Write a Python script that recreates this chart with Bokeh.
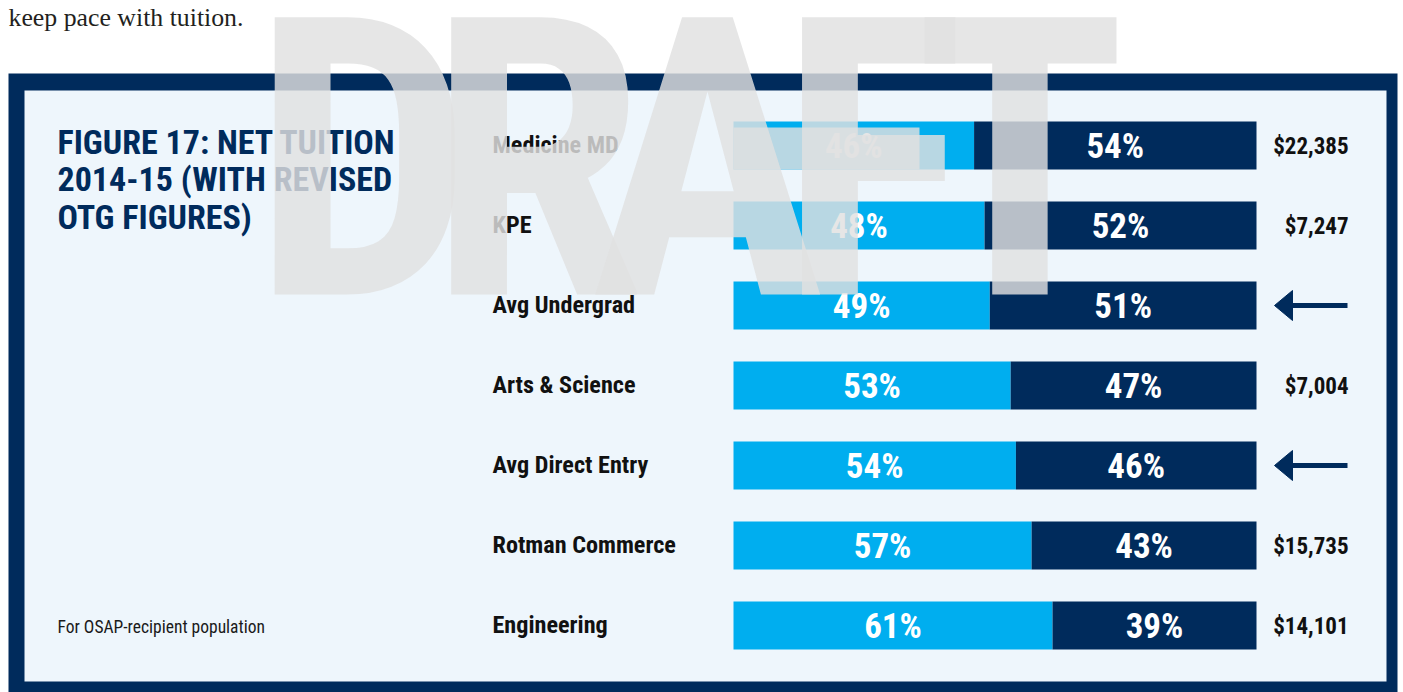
from bokeh.plotting import figure
from bokeh.models import Range1d, ColumnDataSource
from bokeh.core.properties import value
from bokeh.embed import file_html
from bokeh.resources import INLINE

# ---------------- data ----------------
categories = ["Medicine MD", "KPE", "Avg Undergrad", "Arts & Science",
              "Avg Direct Entry", "Rotman Commerce", "Engineering"]
share_light = [46, 48, 49, 53, 54, 57, 61]
share_dark = [54, 52, 51, 47, 46, 43, 39]
net_tuition = ["$22,385", "$7,247", "", "$7,004", "", "$15,735", "$14,101"]
arrow_rows = [False, False, True, False, True, False, False]
title_lines = ["FIGURE 17: NET TUITION", "2014-15 (WITH REVISED", "OTG FIGURES)"]
footnote = "For OSAP-recipient population"
intro = "keep pace with tuition."
watermark = "DRAFT"

# ---------------- style ----------------
FONT = "Roboto Condensed, Roboto"
SERIF = "Liberation Serif"
NAVY = "#002B5C"
CYAN = "#00AEEF"
PANEL = "#EEF6FC"
WM = "#E0E0E0"
WM_ALPHA = 0.82
BASE = 0.35  # empirical shift of the alphabetic baseline, in em

W, H = 1403, 692
X0, Y0 = 0, 0

p = figure(width=W, height=H, output_backend="svg", toolbar_location=None,
           x_range=Range1d(X0, X0 + W), y_range=Range1d(Y0 + H, Y0),
           x_axis_location=None, y_axis_location=None, min_border=0)
p.grid.visible = False
p.outline_line_color = None
p.background_fill_color = "white"
p.border_fill_color = "white"

# bar scale: 0% at x=733, 100% at x=1256
BAR_L, BAR_R = 733, 1256
ppu = (BAR_R - BAR_L) / 100.0
pct_start = -(BAR_L - X0) / ppu
p.extra_x_ranges = {"pct": Range1d(pct_start, pct_start + W / ppu)}
# rows: row 0 centred at y=145, 80px apart
ROW0, ROWSTEP = 145, 80
p.extra_y_ranges = {"rows": Range1d((Y0 + H - ROW0) / ROWSTEP, (Y0 - ROW0) / ROWSTEP)}

# ---------------- frame ----------------
p.quad(left=[8], right=[1397], top=[73], bottom=[700], fill_color=NAVY, line_color=None)
p.quad(left=[24], right=[1386], top=[90], bottom=[681], fill_color=PANEL, line_color=None)

p.text(x=[8], y=[26 - BASE * 25.8], text=[intro], text_font=value(SERIF),
       text_font_size="25.8px", text_color="#231F20", text_baseline="alphabetic")

TS = 34
p.text(x=[57] * len(title_lines),
       y=[153 + 37.5 * i - BASE * TS for i in range(len(title_lines))],
       text=title_lines, text_font=value(FONT), text_font_style="bold",
       text_font_size=f"{TS}px", text_color=NAVY, text_baseline="alphabetic")

p.text(x=[57], y=[633 - BASE * 17.5], text=[footnote], text_font=value(FONT),
       text_font_size="17.5px", text_color="#1A1A1A", text_baseline="alphabetic")

# ---------------- bars ----------------
rows = list(range(len(categories)))
total = [a + b for a, b in zip(share_light, share_dark)]
src = ColumnDataSource(dict(
    row=rows, cat=categories, light=share_light, dark=share_dark, total=total,
    light_mid=[a / 2 for a in share_light],
    dark_mid=[a + b / 2 for a, b in zip(share_light, share_dark)],
    light_lbl=[f"{a}%" for a in share_light],
    dark_lbl=[f"{b}%" for b in share_dark],
    tuition=net_tuition,
))

p.hbar(y="row", left=0, right="light", height=0.6, source=src, fill_color=CYAN,
       line_color=None, x_range_name="pct", y_range_name="rows")
p.hbar(y="row", left="light", right="total", height=0.6, source=src, fill_color=NAVY,
       line_color=None, x_range_name="pct", y_range_name="rows")

PS = 35
for col_x, col_t in (("light_mid", "light_lbl"), ("dark_mid", "dark_lbl")):
    p.text(x=col_x, y="row", text=col_t, source=src, x_range_name="pct",
           y_range_name="rows", text_align="center", text_baseline="alphabetic",
           y_offset=13 - BASE * PS, text_font=value(FONT), text_font_style="bold",
           text_font_size=f"{PS}px", text_color="white")

CS = 24.2
p.text(x=492, y="row", text="cat", source=src, y_range_name="rows",
       text_baseline="alphabetic", y_offset=8 - BASE * CS, text_font=value(FONT),
       text_font_style="bold", text_font_size=f"{CS}px", text_color="#111111")

DS = 23
p.text(x=1348, y="row", text="tuition", source=src, y_range_name="rows",
       text_align="right", text_baseline="alphabetic", y_offset=9 - BASE * DS,
       text_font=value(FONT), text_font_style="bold", text_font_size=f"{DS}px",
       text_color="#111111")

# ---------------- arrows ----------------
arr = [r for r, f in zip(rows, arrow_rows) if f]
TIP, BACK, END, HALF = 1274, 1292, 1347, 15 / ROWSTEP
p.segment(x0=[BACK - 2] * len(arr), x1=[END] * len(arr), y0=arr, y1=arr,
          line_color=NAVY, line_width=5, y_range_name="rows")
p.patches(xs=[[TIP, BACK, BACK] for _ in arr],
          ys=[[r, r - HALF, r + HALF] for r in arr],
          fill_color=NAVY, line_color=NAVY, y_range_name="rows")

# ---------------- watermark ----------------
WS = 390
wm_x = [362, 536, 707, 872, 1020]
p.quad(left=[733], right=[919], top=[127], bottom=[169], fill_color=WM,
       fill_alpha=WM_ALPHA, line_color=None)
p.text(x=wm_x, y=[297 - BASE * WS] * len(wm_x), text=list(watermark),
       text_font=value(FONT), text_font_style="bold", text_font_size=f"{WS}px",
       text_color=WM, text_alpha=WM_ALPHA, text_align="center",
       text_baseline="alphabetic")

open("out.html", "w").write(file_html(p, INLINE))
